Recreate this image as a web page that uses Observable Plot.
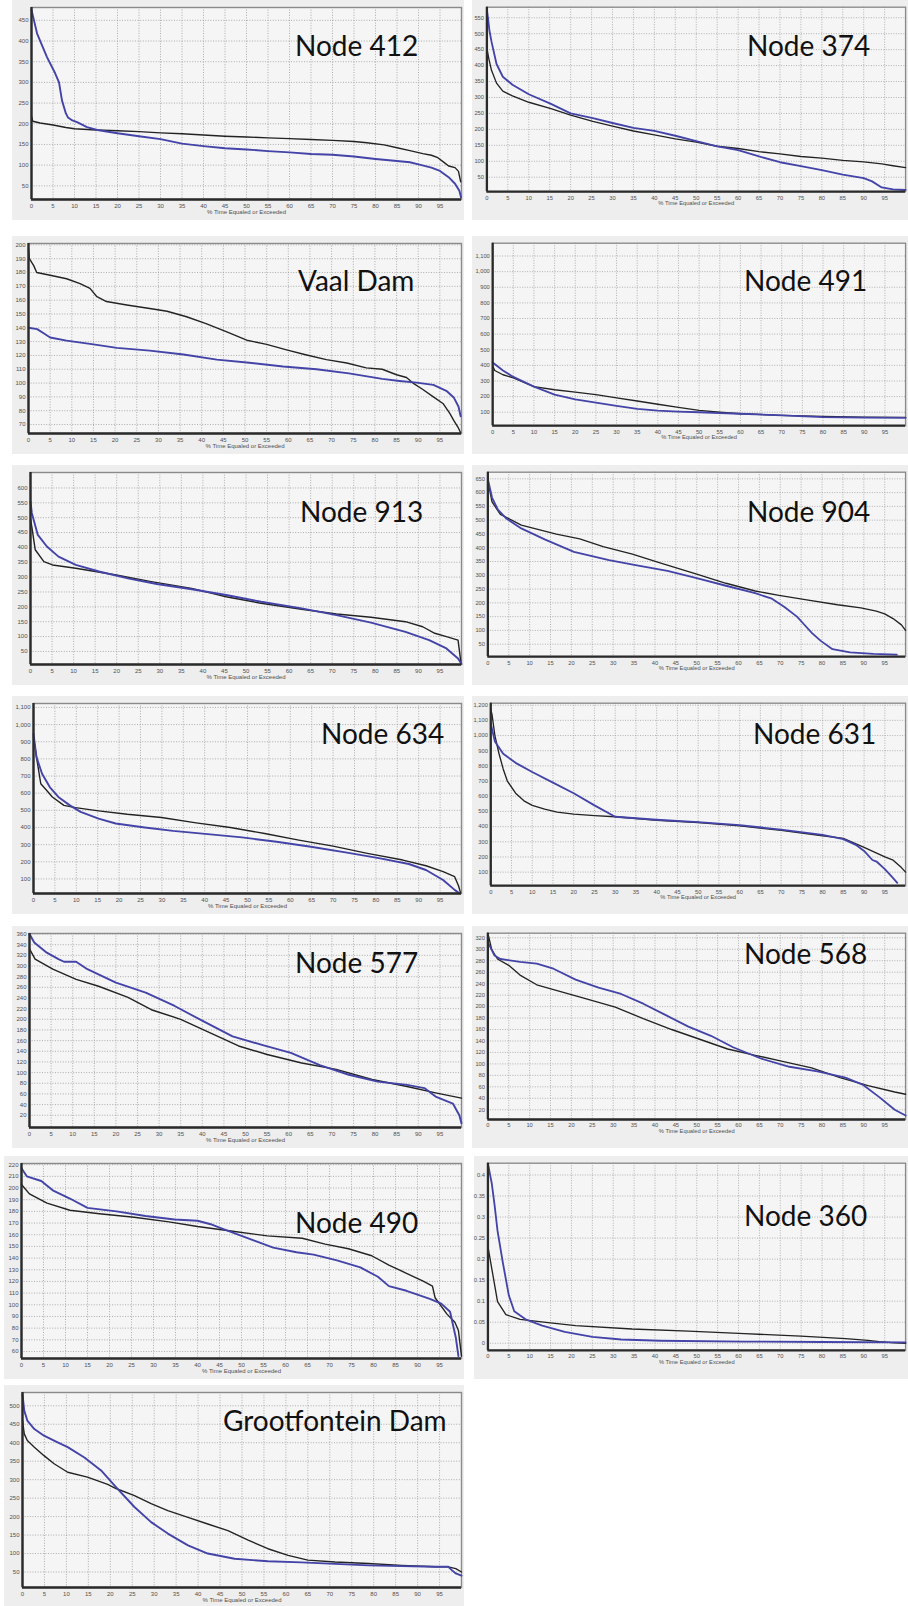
<!DOCTYPE html>
<html><head><meta charset="utf-8">
<script src="https://cdn.jsdelivr.net/npm/d3@7"></script>
<script src="https://cdn.jsdelivr.net/npm/@observablehq/plot@0.6"></script>
<style>
html,body{margin:0;padding:0;background:#fff;overflow:hidden;}
#root{position:relative;width:908px;height:1606px;overflow:hidden;background:#fff;}
.panel{position:absolute;background:#eeeeee;}
.panel svg{position:absolute;left:0;top:0;overflow:visible;}
.title{position:absolute;font-family:Lato,"Open Sans",sans-serif;font-size:28px;color:#111;white-space:nowrap;line-height:28px;}
</style></head><body><div id="root"></div>
<script>
// ---------- data: [% time equaled or exceeded, value] ----------
const node412Black = [[0,218],[0.3,206],[2,202],[5,197],[8,191],[10,188],[15,185],[20,183],[25,181],[30,178],[35,176],[40,173],[45,170],[50,168],[55,166],[60,164],[65,162],[70,160],[75,157],[78,154],[82,149],[85,142],[88,135],[91,128],[93,124],[94.5,118],[96,106],[97,98],[98.5,94],[99.3,85],[99.8,60]];
const node412Blue = [[0,475],[0.3,462],[1.3,418],[3.6,361],[5.5,322],[6.4,300],[7.1,256],[8,225],[8.5,215],[9.5,208],[10.6,204],[12.9,192],[15.3,185],[20,177],[25,170],[30,163],[35,152],[40,146],[45,141],[50,138],[55,134],[60,131],[65,127],[70,125],[75,121],[80,115],[85,110],[88,107],[90,102],[93,94],[95,86],[97,71],[98.5,55],[99.5,38],[99.9,22]];
const node374Black = [[0,455],[0.4,425],[1.1,385],[2.3,345],[3.8,320],[6.1,305],[10,285],[15.3,265],[20,245],[25.3,225],[30,210],[35,195],[40,183],[45,170],[50,160],[55,147],[60,140],[65,130],[70,123],[75,115],[80,110],[85,103],[90,98],[94.3,92],[97,86],[100,80]];
const node374Blue = [[0,575],[0.3,545],[0.6,510],[1.1,475],[2.3,405],[3.8,365],[6.1,340],[10,310],[15.3,280],[20,250],[25.3,235],[30,220],[35,205],[40,195],[45,180],[50,163],[55,147],[60,135],[65,115],[70,97],[75,85],[80,72],[85,58],[90,47],[92,37],[94.3,18],[97,12],[100,10]];
const vaalBlack = [[0,197],[0.2,190],[1.2,185],[1.9,180],[5,178],[8.8,175.5],[11.9,172],[14.2,168.5],[15.8,162.5],[18,159],[22.7,156.5],[28,154],[32,152],[36.5,148],[41,143],[45.8,137],[50.4,131],[55,128],[59.6,124],[64,120.5],[68.8,117],[73.5,114.5],[78,111],[81.7,110],[85,106],[87.3,104],[88.8,100],[91,95.5],[93.5,90],[95.8,85],[97.3,78],[98.2,73],[99.2,68],[99.8,64]];
const vaalBlue = [[0,140],[2,139],[3.5,136],[5,133],[8.8,130.7],[15,128],[20.4,125.5],[28,123.5],[35.8,120.7],[43.5,117],[51,114.7],[58.8,112],[66.5,110],[74,107],[81.7,103],[85.7,101.5],[89.6,100.3],[93.5,98.7],[96.5,94.4],[98.2,89.6],[99.3,83],[99.8,76]];
const node491Black = [[0,398],[0.5,367],[2.5,340],[5,320],[10,264],[15,244],[20,229],[25,213],[30,192],[35,172],[40,151],[45,131],[50,112],[55,100],[60,90],[70,80],[80,73],[90,69],[100,67]];
const node491Blue = [[0,418],[2.5,367],[5,326],[10,264],[15,213],[20,182],[25,162],[30,141],[35,121],[40,110],[45,104],[50,100],[55,94],[60,90],[70,80],[80,69],[90,65],[100,64]];
const node913Black = [[0,495],[0.3,470],[1.1,392],[3.1,352],[5.1,341],[10.5,330],[19.9,307],[28,285],[37.4,262],[45.4,234],[53.5,212],[62.9,192],[71,176],[79,165],[87,150],[91,133],[93.8,111],[96.5,100],[99.2,88],[99.9,8]];
const node913Blue = [[0,555],[0.3,516],[1.7,442],[3.8,403],[6.5,369],[10.5,341],[15.9,319],[22.6,296],[29.3,277],[37.4,259],[45.4,240],[53.5,217],[62.9,195],[71,172],[79,147],[87,116],[92.5,88],[96.5,60],[99.2,26],[100,8]];
const node904Black = [[0,643],[1,566],[3,521],[8,482],[16.4,449],[22,432],[27.6,404],[34.6,377],[41.6,343],[50,304],[57,271],[64,243],[69.7,227],[76.7,210],[83.7,193],[89.3,182],[93,170],[95,160],[97,143],[99,120],[100,100]];
const node904Blue = [[0,649],[1,582],[2.4,538],[4.5,505],[8,470],[13.6,430],[20.6,385],[29,355],[36,335],[43,316],[50,290],[57,262],[64,235],[68,215],[71,185],[74,150],[75.5,125],[77.6,90],[79.7,62],[82.5,32],[86.7,20],[92.3,15],[97.9,12]];
const node634Black = [[0,926],[0.7,810],[1.7,655],[3.1,616],[4.4,578],[7.1,529],[9.8,516],[15.2,497],[21.9,477],[29.9,458],[38,427],[46,400],[54,365],[62,326],[70,291],[78,249],[86.3,210],[91.7,177],[95.7,143],[98.4,113],[99.3,60],[99.8,17]];
const node634Blue = [[0,945],[0.7,810],[2,713],[3.8,636],[5.8,578],[8.5,529],[11,491],[15.2,452],[19.2,423],[26,400],[32.6,380],[40.7,361],[48.7,342],[56.8,317],[64.8,288],[72.9,255],[81,220],[87.7,187],[91.7,152],[95.7,94],[98.4,36],[99.5,17]];
const node631Black = [[0,1170],[0.3,1140],[1,1000],[2,880],[3,780],[4,700],[6,620],[8,570],[10,540],[13,515],[16,495],[20,482],[25,472],[30,465],[40,442],[50,427],[60,405],[70,375],[80,340],[85,322],[90,263],[95,200],[97,179],[99,130],[100,100]];
const node631Blue = [[0,1080],[1,960],[3,880],[6,820],[10,760],[15,690],[20,620],[25,540],[30,465],[40,445],[50,430],[60,410],[70,380],[80,345],[85,318],[88,280],[90,240],[92,180],[93,170],[95,120],[97,60],[98,30]];
const node577Black = [[0,332],[1.3,313],[5.4,294],[10.8,275],[16,262],[22.8,241],[28.2,218],[35,200],[41.7,175],[48.4,150],[55,134],[63,118],[71,106],[79.3,87],[87.4,74],[94,62],[100,52]];
const node577Blue = [[0,360],[1.1,344],[4,325],[6.7,313],[8,308],[10.8,308],[13.4,294],[20,269],[26.9,250],[33.6,225],[40.3,196],[47,168],[53.8,152],[60.5,137],[67.2,114],[73.9,96],[80.6,83],[87.4,77],[91.4,71],[94,55],[98,42],[99.5,20],[100,5]];
const node568Black = [[0,328],[0.9,300],[2.3,283],[5,272],[7.7,255],[11.7,238],[17,227],[23.8,213],[30.5,199],[37.2,179],[44,160],[50.7,143],[57.4,126],[64,115],[70.8,104],[77.5,93],[84.3,76],[91,62],[97.4,51],[100,47]];
const node568Blue = [[0,312],[0.5,305],[1.6,289],[3,283],[7.7,278],[11.7,275],[15.7,266],[21,247],[26.5,233],[31.9,222],[37.2,205],[42.6,185],[48,165],[53.4,149],[58.7,129],[65.5,109],[72.2,95],[78.9,87],[85.6,76],[89.7,64],[93.7,42],[97.4,20],[100,10]];
const node490Black = [[0,203],[1.8,195],[5.8,187],[11,181],[17.7,178],[25.6,175],[33.5,171],[40,167],[48,163],[55.9,159],[63.8,157],[69,152],[74.3,148],[79.6,142],[83.5,134],[87.5,127],[91.4,120],[93.4,116],[94,106],[96.7,92],[98.5,85],[99.3,78],[100,56]];
const node490Blue = [[0,217],[1.2,210],[4.5,206],[7.1,198],[11,191],[15,183],[21.6,180],[28.2,176],[34.8,173],[40,172],[43,169],[45,166],[50,159],[57.2,149],[62.5,145],[66.4,143],[71.7,138],[77,132],[81,124],[83.5,116],[87.5,112],[92.8,105],[95.4,101],[97.4,94],[98.7,72],[99.3,56]];
const node360Black = [[0,0.23],[0.7,0.19],[2.3,0.099],[4.3,0.068],[7.7,0.057],[14.4,0.049],[21,0.042],[34.5,0.034],[48,0.029],[61.4,0.023],[74.9,0.017],[85.6,0.011],[91,0.007],[93.7,0.004],[97.4,0.001],[100,0]];
const node360Blue = [[0,0.427],[0.9,0.381],[1.6,0.328],[2.3,0.267],[3.6,0.19],[5,0.114],[6.3,0.076],[9,0.057],[13,0.042],[18.4,0.027],[25,0.015],[31.9,0.009],[41.3,0.006],[61.4,0.004],[80,0.003],[100,0.002]];
const grootBlack = [[0,460],[0.4,424],[1.1,406],[2.7,388],[4.9,365],[7.2,343],[10.3,320],[14.8,307],[19.4,287],[21.3,276],[25.5,257],[29.3,235],[33.1,216],[37.7,198],[42.2,180],[46.8,162],[51.4,136],[55.9,113],[60.5,95],[65,82],[71.2,77],[78.8,73],[86.4,68],[94,64],[97,64],[98.7,59],[100,50]];
const grootBlue = [[0,531],[0.4,487],[1.1,460],[2.7,437],[4.9,419],[8,401],[10.3,388],[14.1,360],[17.9,325],[21.3,280],[25.5,226],[29.3,185],[33.1,154],[37.7,122],[42.2,100],[48.3,86],[55.9,79],[63.5,76],[71.2,72],[78.8,68],[86.4,66],[94,64],[97,64],[97.8,55],[98.7,46],[100,40]];

// ---------- tick labels ----------
const xTicks = [0,5,10,15,20,25,30,35,40,45,50,55,60,65,70,75,80,85,90,95];
const ticks412 = [50,100,150,200,250,300,350,400,450];
const ticks374 = [50,100,150,200,250,300,350,400,450,500,550];
const ticksVaal = [70,80,90,100,110,120,130,140,150,160,170,180,190,200];
const ticks491 = [100,200,300,400,500,600,700,800,900,1000,1100];
const ticks913 = [50,100,150,200,250,300,350,400,450,500,550,600];
const ticks904 = [50,100,150,200,250,300,350,400,450,500,550,600,650];
const ticks634 = [100,200,300,400,500,600,700,800,900,1000,1100];
const ticks631 = [100,200,300,400,500,600,700,800,900,1000,1100,1200];
const ticks577 = [20,40,60,80,100,120,140,160,180,200,220,240,260,280,300,320,340,360];
const ticks568 = [20,40,60,80,100,120,140,160,180,200,220,240,260,280,300,320];
const ticks490 = [60,70,80,90,100,110,120,130,140,150,160,170,180,190,200,210,220];
const ticks360 = [0,0.05,0.1,0.15,0.2,0.25,0.3,0.35,0.4];
const ticksGroot = [50,100,150,200,250,300,350,400,450,500];

const titles = ["Node 412","Node 374","Vaal Dam","Node 491","Node 913","Node 904","Node 634","Node 631","Node 577","Node 568","Node 490","Node 360","Grootfontein Dam"];
const xLabel = "% Time Equaled or Exceeded";

// ---------- chart table built from the arrays ----------
const charts = [
  {black: node412Black, blue: node412Blue, ticks: ticks412, domain: [17,481]},
  {black: node374Black, blue: node374Blue, ticks: ticks374, domain: [5,583]},
  {black: vaalBlack, blue: vaalBlue, ticks: ticksVaal, domain: [63.5,201]},
  {black: node491Black, blue: node491Blue, ticks: ticks491, domain: [14,1182]},
  {black: node913Black, blue: node913Blue, ticks: ticks913, domain: [6,652]},
  {black: node904Black, blue: node904Blue, ticks: ticks904, domain: [5,674]},
  {black: node634Black, blue: node634Blue, ticks: ticks634, domain: [15,1123]},
  {black: node631Black, blue: node631Blue, ticks: ticks631, domain: [11,1213]},
  {black: node577Black, blue: node577Blue, ticks: ticks577, domain: [-3,361]},
  {black: node568Black, blue: node568Blue, ticks: ticks568, domain: [3,328]},
  {black: node490Black, blue: node490Blue, ticks: ticks490, domain: [54,221]},
  {black: node360Black, blue: node360Blue, ticks: ticks360, domain: [-0.017,0.428]},
  {black: grootBlack, blue: grootBlue, ticks: ticksGroot, domain: [8,536]}
];

// ---------- layout (pixels) ----------
const rowFrameTop = [7,243,472,703,933,1163,1392];
const rowAxisY = [199,433,664,893,1127,1358,1587];
const frameLefts = [31,487,28,493,30,488,33,491,29,488,21,488,22];
const boxLefts = [12,472,12,472,12,472,12,472,12,472,4,474,4];
const frameRights = [461,923];
const titlePos = [[295,55],[747,55],[298,290],[744,290],[300,521],[747,521],[321,743],[753,743],[295,972],[744,963],[295,1232],[744,1225],[223,1430]];

const root = document.getElementById("root");
const fmt = d3.format(",");

charts.forEach((c, i) => {
  const row = Math.floor(i / 2), col = i % 2;
  const frameTop = rowFrameTop[row], axisY = rowAxisY[row];
  const bx = boxLefts[i];
  const by = Math.max(0, frameTop - 7);
  const fr = frameRights[col];
  const bw = fr + 3 - bx;
  const bh = axisY + 21 - by;
  const panel = document.createElement("div");
  panel.className = "panel";
  panel.style.left = bx + "px";
  panel.style.top = by + "px";
  panel.style.width = Math.min(bw, 908 - bx) + "px";
  panel.style.height = bh + "px";
  panel.style.overflow = "visible";

  const lineStyle = {stroke: "#9a9a9a", strokeOpacity: 1, strokeDasharray: "1,1.6", strokeWidth: 0.8};
  const svg = Plot.plot({
    width: bw,
    height: bh,
    marginLeft: frameLefts[i] - bx,
    marginRight: bx + bw - fr,
    marginTop: frameTop - by,
    marginBottom: bh - (axisY - by),
    style: {background: "transparent", fontFamily: "'Liberation Sans', Arial, sans-serif", fontSize: "6px", color: "#505050", overflow: "visible"},
    x: {domain: [0, 100]},
    y: {domain: c.domain},
    marks: [
      Plot.frame({fill: "#f5f5f5", stroke: null}),
      Plot.gridX({ticks: xTicks, ...lineStyle}),
      Plot.gridY({ticks: c.ticks, ...lineStyle}),
      Plot.frame({stroke: "#8a8a8a", strokeWidth: 1.4}),
      Plot.axisX({ticks: xTicks, tickSize: 0, tickPadding: 4, label: null, fontSize: 6}),
      Plot.axisY({ticks: c.ticks, tickSize: 0, tickPadding: 3, tickFormat: fmt, label: null, fontSize: 6}),
      Plot.text([xLabel], {text: d => d, frameAnchor: "bottom", dy: 14, fontSize: 6, fill: "#505050"}),
      Plot.line(c.black, {x: d => d[0], y: d => d[1], stroke: "#232323", strokeWidth: 1.4}),
      Plot.line(c.blue, {x: d => d[0], y: d => d[1], stroke: "#4343a8", strokeWidth: 1.9}),
      Plot.ruleX([0], {stroke: "#2a2a2a", strokeWidth: 2.4}),
      Plot.ruleY([c.domain[0]], {stroke: "#2a2a2a", strokeWidth: 2.4})
    ]
  });
  panel.appendChild(svg);
  root.appendChild(panel);

  const t = document.createElement("div");
  t.className = "title";
  t.textContent = titles[i];
  t.style.left = titlePos[i][0] + "px";
  t.style.top = (titlePos[i][1] - 24) + "px";
  root.appendChild(t);
});
</script>
</body></html>
